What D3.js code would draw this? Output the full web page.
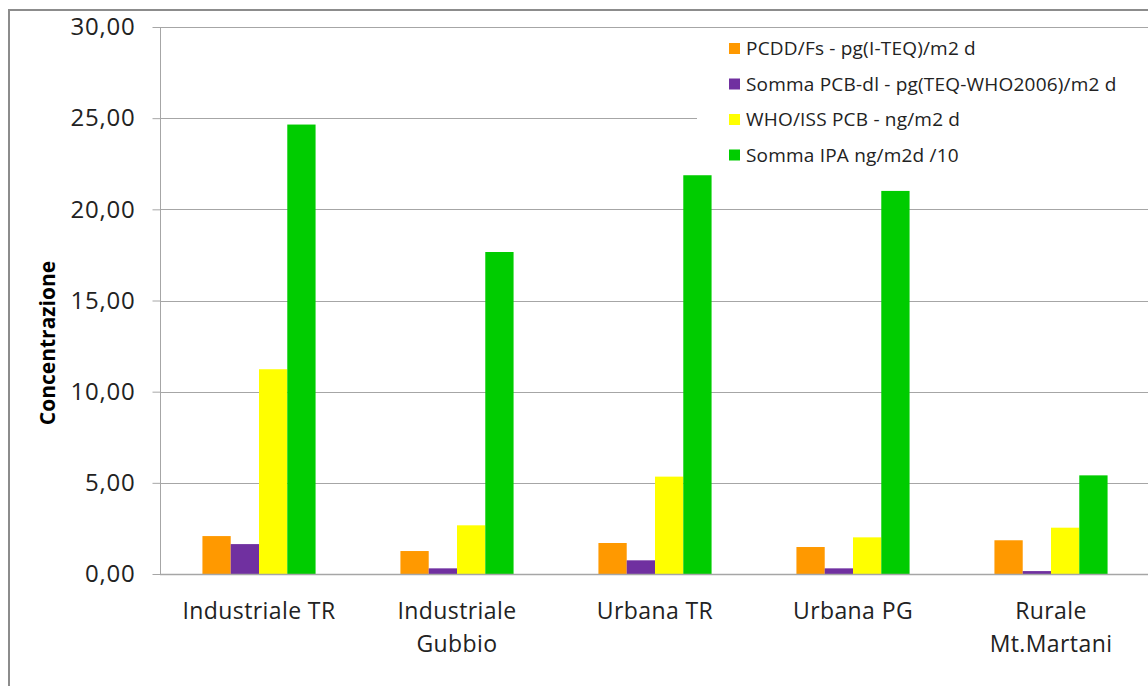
<!DOCTYPE html>
<html><head><meta charset="utf-8">
<script src="https://cdn.jsdelivr.net/npm/d3@7"></script>
<style>html,body{margin:0;padding:0;background:#fff;overflow:hidden}</style>
</head><body>
<svg id="chart" width="1148" height="686"></svg>
<script>
const categories = [["Industriale TR"], ["Industriale", "Gubbio"], ["Urbana TR"], ["Urbana PG"], ["Rurale", "Mt.Martani"]];
const seriesNames = ["PCDD/Fs - pg(I-TEQ)/m2 d", "Somma PCB-dl - pg(TEQ-WHO2006)/m2 d", "WHO/ISS PCB - ng/m2 d", "Somma IPA ng/m2d /10"];
const seriesColors = ["#FF9900", "#7030A0", "#FFFF00", "#00CC00"];
const pcdd = [2.08, 1.26, 1.70, 1.48, 1.85];
const pcbDl = [1.64, 0.31, 0.75, 0.31, 0.16];
const whoPcb = [11.23, 2.67, 5.34, 2.01, 2.54];
const ipa = [24.65, 17.66, 21.87, 21.01, 5.41];
const yTicks = [0, 5, 10, 15, 20, 25, 30];
const yTitle = "Concentrazione";

const series = [pcdd, pcbDl, whoPcb, ipa];
const catKeys = categories.map(c => c.join(" "));

const svg = d3.select("#chart");
const font = "'Open Sans', 'DejaVu Sans', sans-serif";

// outer border
svg.append("rect").attr("x", 9).attr("y", 10).attr("width", 1200).attr("height", 720)
  .attr("fill", "none").attr("stroke", "#8c8c8c").attr("stroke-width", 2);

const pL = 160, pR = 1150, pT = 27, pB = 574;
const y = d3.scaleLinear().domain([0, 30]).range([pB, pT]);
const x0 = d3.scaleBand().domain(catKeys).range([pL, pR]).paddingInner(0).paddingOuter(0);
const x1 = d3.scaleBand().domain(d3.range(series.length)).range([0, x0.bandwidth()]).paddingInner(0).paddingOuter(1.5);

// gridlines
svg.append("g").selectAll("line").data(yTicks.filter(t => t > 0)).join("line")
  .attr("x1", pL).attr("x2", pR)
  .attr("y1", d => Math.round(y(d)) + 0.5).attr("y2", d => Math.round(y(d)) + 0.5)
  .attr("stroke", "#a6a6a6").attr("stroke-width", 1);

// y axis
const yAxis = d3.axisLeft(y).tickValues(yTicks).tickSize(8).tickPadding(17)
  .tickFormat(d => d3.format(".2f")(d).replace(".", ","));
const gy = svg.append("g").attr("transform", `translate(${pL + 0.5},0)`).call(yAxis);
gy.select(".domain").attr("stroke", "#a6a6a6").attr("d", `M0,${pT}V${pB}`);
gy.selectAll(".tick line").attr("stroke", "#a6a6a6");
gy.selectAll(".tick text").attr("font-family", font).attr("font-size", 24)
  .attr("letter-spacing", 0.8).attr("fill", "#222");

// bars
const groups = svg.append("g").selectAll("g").data(catKeys).join("g")
  .attr("transform", d => `translate(${x0(d)},0)`);
groups.selectAll("rect").data((d, i) => series.map((s, k) => ({k, v: s[i]}))).join("rect")
  .attr("x", d => x1(d.k)).attr("width", x1.bandwidth())
  .attr("y", d => y(d.v)).attr("height", d => y(0) - y(d.v))
  .attr("fill", d => seriesColors[d.k]);

// x axis line
svg.append("line").attr("x1", pL).attr("x2", pR + 10)
  .attr("y1", pB + 0.5).attr("y2", pB + 0.5).attr("stroke", "#a6a6a6").attr("stroke-width", 1.5);

// category labels
const xl = svg.append("g");
categories.forEach((lines, i) => {
  const t = xl.append("text").attr("text-anchor", "middle").attr("font-family", font)
    .attr("font-size", 23).attr("letter-spacing", 0.4).attr("fill", "#222");
  lines.forEach((ln, j) => {
    t.append("tspan").attr("x", x0(catKeys[i]) + x0.bandwidth() / 2).attr("y", 619 + j * 33).text(ln);
  });
});

// y title
svg.append("text").attr("transform", "translate(55,343) rotate(-90)")
  .attr("text-anchor", "middle").attr("font-family", font).attr("font-weight", "bold")
  .attr("font-size", 21).attr("fill", "#000").text(yTitle);

// legend
const lg = svg.append("g");
lg.append("rect").attr("x", 697).attr("y", 30).attr("width", 460).attr("height", 145).attr("fill", "#fff");
seriesNames.forEach((n, i) => {
  const cy = 48 + i * 35.5;
  lg.append("rect").attr("x", 729).attr("y", cy - 5).attr("width", 11).attr("height", 11).attr("fill", seriesColors[i]);
  lg.append("text").attr("x", 746).attr("y", cy + 7).attr("font-family", font).attr("font-size", 19)
    .attr("letter-spacing", 0.2).attr("fill", "#222").text(n);
});
</script>
</body></html>
